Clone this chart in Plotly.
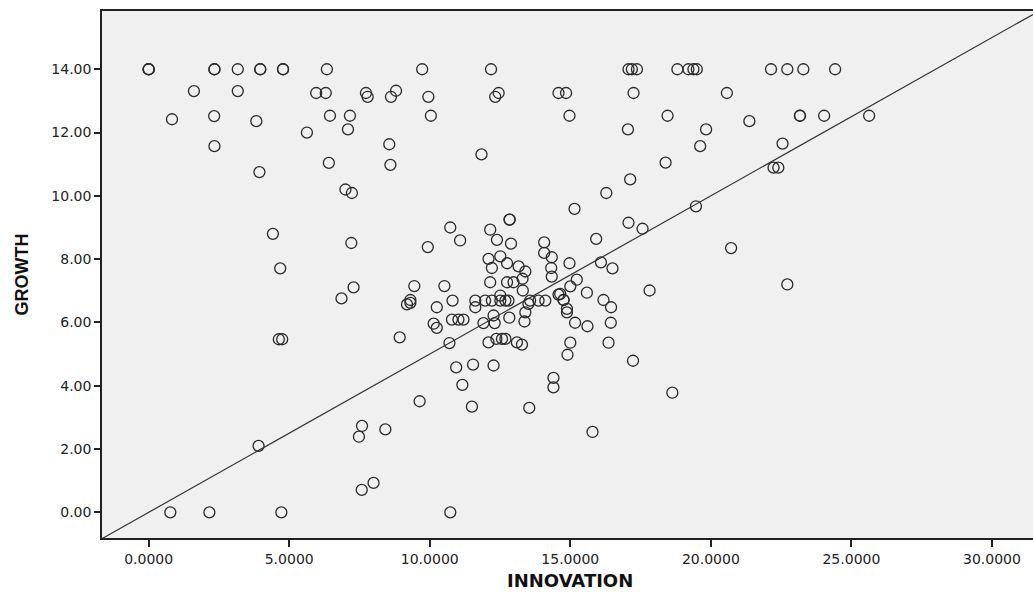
import plotly.graph_objects as go

# ---- data ----
innovation = [
    0.0, 0.0, 0.0, 2.34, 2.34, 3.17, 3.97, 3.97, 4.78, 4.78, 6.34, 9.73, 12.18,
    17.07, 17.19, 17.37, 18.81, 19.20, 19.38, 19.50, 22.14, 22.72, 23.29, 24.42,
    1.61, 3.17, 5.96, 6.30, 7.73, 7.79, 8.62, 8.80, 9.95, 12.45, 12.33, 14.58,
    14.85, 17.25, 20.57,
    0.83, 2.33, 3.83, 6.45, 7.16, 10.04, 14.97, 18.46, 23.17, 23.17, 24.03, 25.63, 21.37,
    5.63, 7.09, 17.05, 19.83, 2.34, 8.56, 19.62, 22.55, 11.84, 6.41, 8.60, 18.39,
    22.23, 22.40, 3.94, 17.13, 7.00, 7.23, 16.28,
    15.15, 19.47, 17.07, 17.57, 15.92, 20.72, 12.84, 12.84, 10.73, 12.15, 11.08,
    9.93, 12.39, 12.89, 14.07, 14.07, 14.34, 12.09, 12.51, 4.42, 7.21,
    14.97, 16.09, 16.50, 15.23, 15.00, 15.59, 17.82, 22.72, 4.68, 7.29, 6.86,
    12.21, 12.75, 13.16, 13.40, 13.30, 14.32, 14.34, 12.15, 12.75, 12.98, 13.31,
    9.45, 10.52,
    9.31, 9.31, 9.19, 10.81, 11.62, 11.97, 12.21, 12.51, 12.69, 12.80, 12.51,
    13.57, 13.87, 14.11, 14.58, 14.76, 14.76, 14.64, 13.51, 16.18, 16.45, 14.88, 14.88,
    10.25, 11.62, 12.27, 12.83, 13.40, 12.31, 11.91, 13.37, 10.79, 11.02, 11.20,
    10.14, 10.25, 8.93, 10.70, 12.09, 12.37, 12.57, 12.69, 13.10, 13.28, 15.17,
    15.61, 16.44, 15.00, 16.36, 14.90, 17.23, 4.63, 4.75,
    10.94, 11.54, 12.27, 11.16, 9.64, 11.50, 13.54, 14.40, 14.40, 18.63, 15.79,
    3.91, 7.59, 7.48, 8.42, 8.00, 7.58, 0.77, 2.16, 4.72, 10.73,
]
growth = [
    14.0, 14.0, 14.0, 14.0, 14.0, 14.0, 14.0, 14.0, 14.0, 14.0, 14.0, 14.0, 14.0,
    14.0, 14.0, 14.0, 14.0, 14.0, 14.0, 14.0, 14.0, 14.0, 14.0, 14.0,
    13.31, 13.31, 13.25, 13.25, 13.25, 13.13, 13.13, 13.32, 13.13, 13.25, 13.13, 13.25,
    13.25, 13.25, 13.25,
    12.42, 12.52, 12.36, 12.53, 12.53, 12.53, 12.53, 12.53, 12.53, 12.53, 12.53, 12.53, 12.36,
    12.00, 12.10, 12.10, 12.10, 11.57, 11.63, 11.57, 11.65, 11.31, 11.04, 10.98, 11.05,
    10.89, 10.89, 10.75, 10.52, 10.20, 10.09, 10.09,
    9.59, 9.67, 9.15, 8.96, 8.64, 8.35, 9.25, 9.25, 9.00, 8.93, 8.59,
    8.38, 8.61, 8.49, 8.53, 8.20, 8.06, 8.01, 8.09, 8.80, 8.51,
    7.87, 7.90, 7.71, 7.35, 7.14, 6.94, 7.01, 7.20, 7.71, 7.11, 6.76,
    7.72, 7.87, 7.77, 7.61, 7.38, 7.72, 7.45, 7.27, 7.27, 7.27, 7.01,
    7.15, 7.15,
    6.71, 6.62, 6.57, 6.69, 6.69, 6.69, 6.69, 6.69, 6.69, 6.69, 6.85,
    6.69, 6.69, 6.69, 6.88, 6.71, 6.71, 6.90, 6.59, 6.71, 6.48, 6.43, 6.32,
    6.48, 6.48, 6.22, 6.15, 6.32, 5.98, 5.98, 6.03, 6.09, 6.09, 6.09,
    5.96, 5.83, 5.53, 5.35, 5.37, 5.48, 5.48, 5.48, 5.37, 5.30, 5.99,
    5.88, 5.99, 5.36, 5.36, 4.98, 4.79, 5.47, 5.47,
    4.58, 4.67, 4.64, 4.03, 3.51, 3.34, 3.30, 4.25, 3.95, 3.78, 2.54,
    2.10, 2.73, 2.39, 2.62, 0.93, 0.71, 0.0, 0.0, 0.0, 0.0,
]

x_range = [-1.66, 31.46]
y_range = [-0.81, 15.84]
x_ticks = [0, 5, 10, 15, 20, 25, 30]
y_ticks = [0, 2, 4, 6, 8, 10, 12, 14]

fit_slope = 0.5
fit_intercept = 0.0

x_title = "INNOVATION"
y_title = "GROWTH"

fig = go.Figure()

fig.add_trace(go.Scatter(
    x=innovation, y=growth, mode="markers",
    marker=dict(symbol="circle-open", size=11, color="#2a2a2a",
                line=dict(width=1.3, color="#2a2a2a")),
    showlegend=False, hoverinfo="x+y",
))

fit_x = list(x_range)
fit_y = [fit_intercept + fit_slope * v for v in fit_x]
fig.add_trace(go.Scatter(
    x=fit_x, y=fit_y, mode="lines",
    line=dict(color="#333333", width=1.2),
    showlegend=False, hoverinfo="skip",
))

tick_font = dict(family="DejaVu Sans, Liberation Sans, sans-serif", size=14, color="#222222")

fig.update_layout(
    width=1033, height=594,
    margin=dict(l=102, r=0, t=11, b=56),
    paper_bgcolor="white",
    plot_bgcolor="#f0f0f0",
    xaxis=dict(
        range=x_range, tickvals=x_ticks, tickformat=".4f",
        showgrid=False, zeroline=False,
        showline=True, linecolor="#222222", linewidth=1.5, mirror=True,
        ticks="outside", ticklen=7, tickwidth=1.5, tickcolor="#222222",
        tickfont=tick_font,
    ),
    yaxis=dict(
        range=y_range, tickvals=y_ticks, tickformat=".2f",
        showgrid=False, zeroline=False,
        showline=True, linecolor="#222222", linewidth=1.5, mirror=False,
        ticks="outside", ticklen=6, tickwidth=1.5, tickcolor="#222222",
        tickfont=tick_font,
    ),
    annotations=[
        dict(text="<b>" + x_title + "</b>", xref="paper", yref="paper",
             x=0.5027, y=-0.081, xanchor="center", yanchor="middle", showarrow=False,
             font=dict(family="DejaVu Sans, Liberation Sans, sans-serif", size=18, color="#111111")),
        dict(text="<b>" + y_title + "</b>", xref="paper", yref="paper",
             x=-0.086, y=0.5, xanchor="center", yanchor="middle", showarrow=False,
             textangle=-90,
             font=dict(family="Liberation Sans Narrow, Arial Narrow, Liberation Sans, sans-serif",
                       size=18, color="#111111")),
    ],
)

fig.write_html(
    "out.html",
    config={"displayModeBar": False},
    post_script="document.body.style.margin='0';document.body.style.padding='0';document.body.style.overflow='hidden';",
)
